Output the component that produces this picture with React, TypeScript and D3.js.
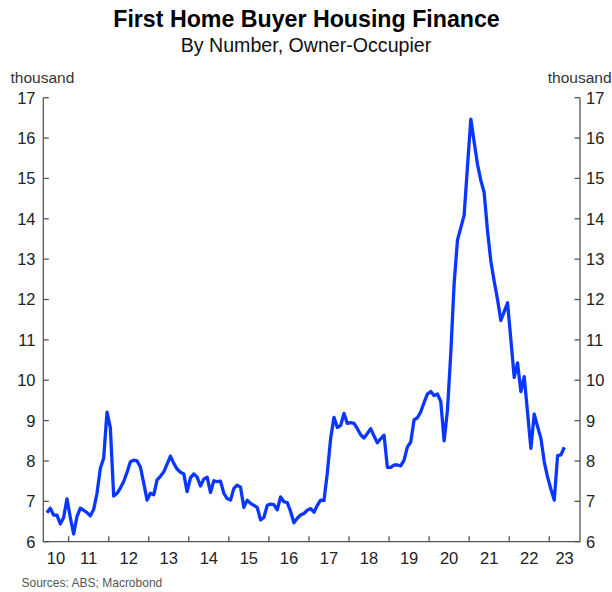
import React from "react";
import * as d3 from "d3";

// Monthly first home buyer loan commitments (thousand), Jun 2010 – May 2023
const startYear = 2010;
const startMonth = 6; // June
const values: number[] = [
  // 2010 Jun-Dec
  6.72, 6.83, 6.66, 6.66, 6.44, 6.6, 7.06,
  // 2011
  6.6, 6.19, 6.62, 6.83, 6.78, 6.72, 6.64, 6.8, 7.2, 7.82, 8.07, 9.21,
  // 2012
  8.82, 7.13, 7.2, 7.33, 7.49, 7.72, 7.98, 8.02, 8.0, 7.85, 7.45, 7.03,
  // 2013
  7.2, 7.16, 7.53, 7.62, 7.73, 7.92, 8.12, 7.94, 7.8, 7.72, 7.68, 7.24,
  // 2014
  7.58, 7.68, 7.6, 7.38, 7.55, 7.6, 7.22, 7.51, 7.49, 7.5, 7.2, 7.07,
  // 2015
  7.03, 7.32, 7.4, 7.35, 6.85, 7.03, 6.95, 6.9, 6.85, 6.54, 6.6, 6.9,
  // 2016
  6.93, 6.92, 6.79, 7.11, 6.99, 6.97, 6.75, 6.47, 6.58, 6.66, 6.7, 6.78,
  // 2017
  6.82, 6.73, 6.9, 7.03, 7.02, 7.7, 8.56, 9.08, 8.83, 8.88, 9.18, 8.93,
  // 2018
  8.95, 8.93, 8.8, 8.65, 8.57, 8.68, 8.8, 8.62, 8.45, 8.55, 8.64, 7.84,
  // 2019
  7.84, 7.9, 7.9, 7.88, 8.02, 8.35, 8.47, 9.02, 9.07, 9.22, 9.45, 9.66,
  // 2020
  9.72, 9.62, 9.66, 9.47, 8.5, 9.26, 10.67, 12.4, 13.47, 13.78, 14.09, 15.3,
  // 2021
  16.47, 15.9, 15.35, 14.95, 14.65, 13.7, 12.95, 12.45, 12.0, 11.48, 11.7, 11.92,
  // 2022
  11.0, 10.07, 10.43, 9.72, 10.09, 9.2, 8.31, 9.16, 8.85, 8.56, 7.98, 7.6,
  // 2023 Jan-May
  7.3, 7.03, 8.13, 8.15, 8.34,
];

const yTicks: number[] = [6, 7, 8, 9, 10, 11, 12, 13, 14, 15, 16, 17];
const yearLabels: string[] = ["10", "11", "12", "13", "14", "15", "16", "17", "18", "19", "20", "21", "22", "23"];
const firstYear = 2010;
const xDomain: [number, number] = [2010.3675, 2023.7675];
const yDomain: [number, number] = [6, 17];

const title = "First Home Buyer Housing Finance";
const subtitle = "By Number, Owner-Occupier";
const unitLabel = "thousand";
const source = "Sources: ABS; Macrobond";

const W = 612;
const H = 592;
const margin = { left: 43.3, right: 612 - 580, top: 97.7, bottom: 592 - 541.7 };

export default function App() {
  const x = d3.scaleLinear().domain(xDomain).range([margin.left, W - margin.right]);
  const y = d3.scaleLinear().domain(yDomain).range([H - margin.bottom, margin.top]);

  const data = values.map((v, i) => ({
    t: startYear + (startMonth - 1 + i + 0.5) / 12,
    v,
  }));

  const line = d3
    .line<{ t: number; v: number }>()
    .x((d) => x(d.t))
    .y((d) => y(d.v));

  const x0 = margin.left;
  const x1 = W - margin.right;
  const yb = H - margin.bottom;
  const yt = margin.top;
  const axisColor = "#555";
  const font = "'Liberation Sans', Arial, Helvetica, sans-serif";

  const yearTicks = d3.range(firstYear + 1, firstYear + yearLabels.length).filter(
    (yr) => yr > xDomain[0] && yr < xDomain[1]
  );

  return (
    <svg width={W} height={H} style={{ position: "absolute", left: 0, top: 0, background: "#fff" }} fontFamily={font}>
      <rect x={0} y={0} width={W} height={H} fill="#fff" />
      <text x={W / 2 + 0.5} y={27} textAnchor="middle" fontSize={23.2} fontWeight="bold" fill="#000">
        {title}
      </text>
      <text x={W / 2} y={52} textAnchor="middle" fontSize={19.6} fill="#111">
        {subtitle}
      </text>
      <text x={10.5} y={83} textAnchor="start" fontSize={15.5} fill="#333">
        {unitLabel}
      </text>
      <text x={611.5} y={83} textAnchor="end" fontSize={15.5} fill="#333">
        {unitLabel}
      </text>

      {/* axes */}
      <path d={`M${x0},${yt}V${yb}H${x1}V${yt}`} fill="none" stroke={axisColor} strokeWidth={1.3} />
      {yTicks.map((t) => (
        <g key={"y" + t}>
          <line x1={x0} x2={x0 + 5.5} y1={y(t)} y2={y(t)} stroke={axisColor} strokeWidth={1.3} />
          <line x1={x1 - 5.5} x2={x1} y1={y(t)} y2={y(t)} stroke={axisColor} strokeWidth={1.3} />
          <text x={35.5} y={y(t)} dy="0.36em" textAnchor="end" fontSize={16.5} fill="#222">
            {t}
          </text>
          <text x={586} y={y(t)} dy="0.36em" textAnchor="start" fontSize={16.5} fill="#222">
            {t}
          </text>
        </g>
      ))}
      {yearTicks.map((yr) => (
        <line key={"xt" + yr} x1={x(yr)} x2={x(yr)} y1={yb} y2={yb - 5.5} stroke={axisColor} strokeWidth={1.3} />
      ))}
      {yearLabels.map((lab, i) => {
        const yr = firstYear + i;
        const a = Math.max(yr, xDomain[0]);
        const b = Math.min(yr + 1, xDomain[1]);
        return (
          <text key={"xl" + lab} x={x((a + b) / 2)} y={563.5} textAnchor="middle" fontSize={16.5} fill="#222">
            {lab}
          </text>
        );
      })}

      <path d={line(data) || ""} fill="none" stroke="#0a37ff" strokeWidth={3.3} strokeLinejoin="round" strokeLinecap="butt" />

      <text x={21.5} y={586.5} fontSize={12} fill="#555">
        {source}
      </text>
    </svg>
  );
}
